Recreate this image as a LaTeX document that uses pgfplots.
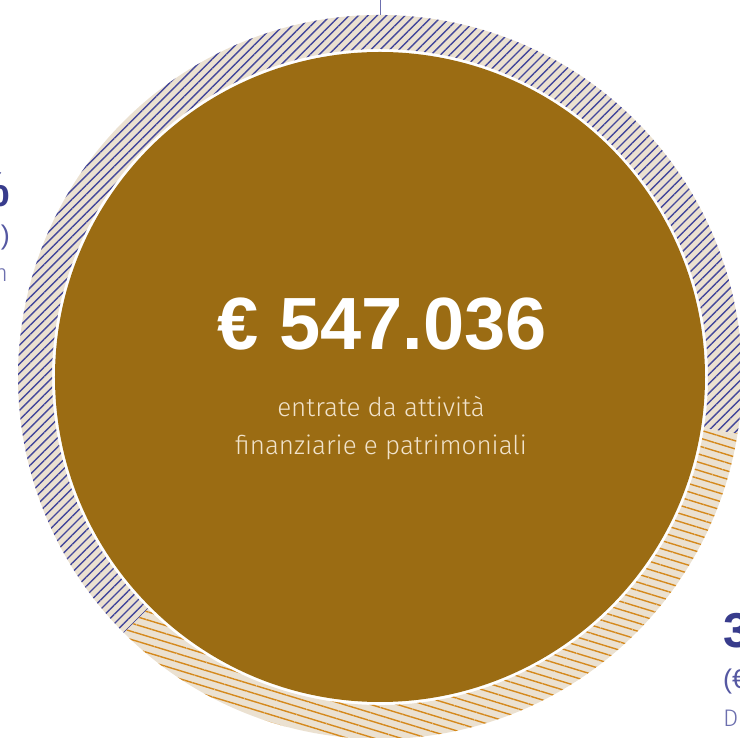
\documentclass[border=0pt]{standalone}
\usepackage{pgfplots}
\pgfplotsset{compat=1.18}
\usepackage{pgfplotstable}
\usetikzlibrary{patterns.meta}
\usepackage{fontspec}
\setmainfont{Liberation Sans}
\newfontfamily\lightfont{Fira Sans Light}
\definecolor{brownfill}{HTML}{9B6C13}
\definecolor{ringbg}{HTML}{EBE1D1}
\definecolor{blueline}{HTML}{43479A}
\definecolor{orangeline}{HTML}{D5891C}
\definecolor{subtxt}{HTML}{F1E3CB}
\definecolor{lblblue}{HTML}{383C8C}
\definecolor{lblblue2}{HTML}{5558A2}
\definecolor{lblblue3}{HTML}{6C6FAE}

\pgfplotstableread{
label share
A 65
B 35
}\piedata

\begin{document}
\begin{tikzpicture}
\pgfplotstablegetelem{0}{share}\of\piedata \let\shareA\pgfplotsretval
\pgfplotstablegetelem{1}{share}\of\piedata \let\shareB\pgfplotsretval
\pgfmathsetmacro{\aStart}{-9}
\pgfmathsetmacro{\aMid}{\aStart+3.6*\shareA}
\pgfmathsetmacro{\aEnd}{\aMid+3.6*\shareB}
\begin{axis}[hide axis, scale only axis, width=740bp, height=738bp,
  xmin=0, xmax=740, ymin=0, ymax=738, anchor=south west, at={(0,0)}, clip=true]
% blue segment
\fill[ringbg] (axis cs:380,361) ++(\aStart:362bp) arc[start angle=\aStart, end angle=\aMid, radius=362bp] -- ++(\aMid:-34bp) arc[start angle=\aMid, end angle=\aStart, radius=328bp] -- cycle;
\fill[pattern={Lines[angle=45, distance=6.6bp, line width=1.4bp]}, pattern color=blueline] (axis cs:380,361) ++(\aStart:362bp) arc[start angle=\aStart, end angle=\aMid, radius=362bp] -- ++(\aMid:-34bp) arc[start angle=\aMid, end angle=\aStart, radius=328bp] -- cycle;
% orange segment
\fill[ringbg] (axis cs:380,361) ++(\aMid:362bp) arc[start angle=\aMid, end angle=\aEnd, radius=362bp] -- ++(\aEnd:-34bp) arc[start angle=\aEnd, end angle=\aMid, radius=328bp] -- cycle;
\fill[pattern={Lines[angle=-17, distance=7.8bp, line width=1.4bp]}, pattern color=orangeline] (axis cs:380,361) ++(\aMid:362bp) arc[start angle=\aMid, end angle=\aEnd, radius=362bp] -- ++(\aEnd:-34bp) arc[start angle=\aEnd, end angle=\aMid, radius=328bp] -- cycle;
% inner disc
\fill[brownfill] (axis cs:380,361) circle[radius=325bp];
% leader line
\draw[lblblue3, line width=1bp] (axis cs:380,738) -- (axis cs:380,723);
% centre text
\node[anchor=base, text=white, inner sep=0pt] at (axis cs:382,388) {\fontsize{74bp}{80bp}\selectfont\bfseries € 547.036};
\node[anchor=base, text=subtxt, inner sep=0pt] at (axis cs:381,321) {\fontsize{26bp}{30bp}\selectfont\lightfont entrate da attività};
\node[anchor=base, text=subtxt, inner sep=0pt] at (axis cs:381,283) {\fontsize{26bp}{30bp}\selectfont\lightfont finanziarie e patrimoniali};
% left label
\node[anchor=base east, text=lblblue, inner sep=0pt] at (axis cs:10,531) {\fontsize{49bp}{52bp}\selectfont\bfseries 65\%};
\node[anchor=base east, text=lblblue2, inner sep=0pt] at (axis cs:10,493) {\fontsize{27bp}{30bp}\selectfont (€ 355.573)};
\node[anchor=base east, text=lblblue3, inner sep=0pt] at (axis cs:8,456) {\fontsize{24bp}{28bp}\selectfont\lightfont rendite da investimen};
% right label
\node[anchor=base west, text=lblblue, inner sep=0pt] at (axis cs:723,90) {\fontsize{49bp}{52bp}\selectfont\bfseries 35\%};
\node[anchor=base west, text=lblblue2, inner sep=0pt] at (axis cs:723,49) {\fontsize{27bp}{30bp}\selectfont (€ 191.463)};
\node[anchor=base west, text=lblblue3, inner sep=0pt] at (axis cs:723,12) {\fontsize{24bp}{28bp}\selectfont\lightfont Dividendi};
\end{axis}
\pgfresetboundingbox
\useasboundingbox (0,0) rectangle (740bp,738bp);
\end{tikzpicture}
\end{document}
